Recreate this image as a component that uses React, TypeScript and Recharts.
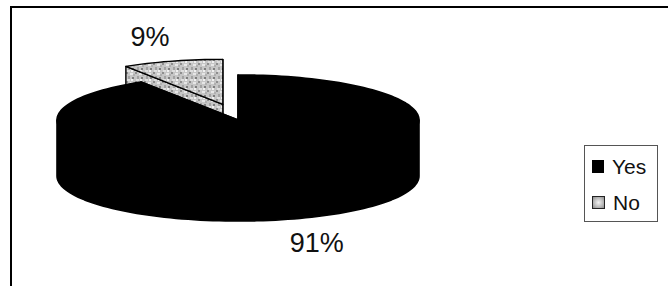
import React from "react";
import { PieChart, Pie, Cell, Legend } from "recharts";

// answers, in drawing order (back slice first so the big slice paints over it)
const CATEGORIES = ["No", "Yes"];
const VALUES = [9, 91];
const LEGEND_ORDER = ["Yes", "No"];
const EXPLODED = "No";

const data = CATEGORIES.map((name, i) => ({ name, value: VALUES[i] }));

const FONT = '"Liberation Sans", Arial, sans-serif';
const FILLS: Record<string, string> = { Yes: "#000000", No: "url(#noTexture)" };

const RAD = Math.PI / 180;
const TILT = 0.249; // ry / rx of the top face
const DEPTH = 56; // thickness of the pie
const EXPLODE_X = 0.3;
const EXPLODE_Y = 0.36;

function explodeOffset(name: string, midAngle: number, rx: number, ry: number) {
	if (name !== EXPLODED) return [0, 0];
	return [
		Math.cos(midAngle * RAD) * rx * EXPLODE_X,
		-Math.sin(midAngle * RAD) * ry * EXPLODE_Y,
	];
}

function arcPts(cx: number, cy: number, rx: number, ry: number, a0: number, a1: number, dy = 0) {
	const n = Math.max(2, Math.ceil(Math.abs(a1 - a0) / 2));
	const pts: string[] = [];
	for (let i = 0; i <= n; i++) {
		const a = (a0 + ((a1 - a0) * i) / n) * RAD;
		pts.push(`${(cx + rx * Math.cos(a)).toFixed(2)},${(cy - ry * Math.sin(a) + dy).toFixed(2)}`);
	}
	return pts;
}

function Slice3D(props: any) {
	const { cx, cy, outerRadius, startAngle, endAngle, midAngle, fill } = props;
	const name = props.payload?.name ?? props.name;
	const rx = outerRadius;
	const ry = outerRadius * TILT;
	const [ox, oy] = explodeOffset(name, midAngle, rx, ry);
	const x0 = cx + ox;
	const y0 = cy + oy;
	const s = Math.min(startAngle, endAngle);
	const e = Math.max(startAngle, endAngle);
	const isNo = name === "No";
	const stroke = "#000";
	const sw = isNo ? 1.4 : 1.6;

	// radial cut faces
	const faces = [s, e].map((a) => {
		const px = x0 + rx * Math.cos(a * RAD);
		const py = y0 - ry * Math.sin(a * RAD);
		return `M${x0},${y0} L${px},${py} L${px},${py + DEPTH} L${x0},${y0 + DEPTH} Z`;
	});

	// outer wall, front half only; the top edge tucks a little under the top face
	const walls: string[] = [];
	for (let k = -1; k <= 2; k++) {
		const lo = Math.max(s, 180 + 360 * k);
		const hi = Math.min(e, 360 + 360 * k);
		if (hi > lo) {
			const top = arcPts(x0, y0, rx - 2, ry - 2, lo, hi);
			const bottom = arcPts(x0, y0, rx, ry, lo, hi, DEPTH).reverse();
			const l = arcPts(x0, y0, rx, ry, lo, lo)[0];
			const r = arcPts(x0, y0, rx, ry, hi, hi)[0];
			walls.push(`M${l} L${top.join(" L")} L${r} L${bottom.join(" L")} Z`);
		}
	}

	const topFace = `M${x0},${y0} L${arcPts(x0, y0, rx, ry, s, e).join(" L")} Z`;

	return (
		<g strokeLinejoin="round">
			{isNo && (
				<defs>
					<pattern id="noTexture" width="9" height="9" patternUnits="userSpaceOnUse">
						<rect width="9" height="9" fill="#c6c6c6" />
						<rect x="0" y="0" width="2" height="2" fill="#8e8e8e" />
						<rect x="4" y="1" width="3" height="2" fill="#e6e6e6" />
						<rect x="2" y="4" width="2" height="3" fill="#a2a2a2" />
						<rect x="6" y="5" width="2" height="2" fill="#7d7d7d" />
						<rect x="1" y="7" width="3" height="2" fill="#dedede" />
						<rect x="7" y="2" width="2" height="2" fill="#b0b0b0" />
						<rect x="5" y="7" width="2" height="2" fill="#f0f0f0" />
					</pattern>
				</defs>
			)}
			{faces.map((d, i) => (
				<path key={`f${i}`} d={d} fill={fill} stroke={stroke} strokeWidth={sw} />
			))}
			{walls.map((d, i) => (
				<path key={`w${i}`} d={d} fill={fill} stroke={stroke} strokeWidth={sw} />
			))}
			<path d={topFace} fill={fill} stroke={stroke} strokeWidth={sw} />
		</g>
	);
}

function renderLabel(props: any) {
	const { cx, cy, midAngle, outerRadius, percent } = props;
	const name = props.payload?.name ?? props.name;
	const rx = outerRadius;
	const ry = outerRadius * TILT;
	const [ox, oy] = explodeOffset(name, midAngle, rx, ry);
	const c = Math.cos(midAngle * RAD);
	const s = Math.sin(midAngle * RAD);
	const x = cx + ox + c * rx * 1.5 + 3;
	const y = cy + oy - s * ry * 1.55 + (s < 0 ? DEPTH : 0);
	return (
		<text
			x={x}
			y={y}
			textAnchor="middle"
			dominantBaseline="central"
			fontSize={27}
			fontFamily={FONT}
			fill="#111"
		>
			{`${Math.round(percent * 100)}%`}
		</text>
	);
}

function markerStyle(name: string): React.CSSProperties {
	if (name === "No") {
		return {
			width: 11,
			height: 11,
			border: "1px solid #222",
			background: "radial-gradient(circle, #f2f2f2 0%, #b8b8b8 60%, #8a8a8a 100%)",
			display: "inline-block",
		};
	}
	return { width: 12, height: 13, background: "#000", display: "inline-block" };
}

function LegendBox(props: any) {
	const items = [...(props.payload ?? [])].sort(
		(a: any, b: any) => LEGEND_ORDER.indexOf(a.value) - LEGEND_ORDER.indexOf(b.value)
	);
	return (
		<div
			style={{
				width: 74,
				height: 77,
				border: "1px solid #555",
				boxSizing: "border-box",
				paddingTop: 2,
				background: "#fff",
			}}
		>
			{items.map((item: any) => (
				<div
					key={item.value}
					style={{ display: "flex", alignItems: "center", height: 36, paddingLeft: 7 }}
				>
					<span style={markerStyle(item.value)} />
					<span
						style={{
							marginLeft: 8,
							fontSize: 21,
							fontFamily: FONT,
							color: "#111",
							lineHeight: "21px",
						}}
					>
						{item.value}
					</span>
				</div>
			))}
		</div>
	);
}

export default function App() {
	return (
		<div
			style={{
				position: "absolute",
				left: 0,
				top: 0,
				width: 668,
				height: 286,
				overflow: "hidden",
				background: "#fff",
			}}
		>
			{/* chart frame, runs off the right and bottom */}
			<div
				style={{
					position: "absolute",
					left: 10,
					top: 6,
					width: 700,
					height: 320,
					border: "2px solid #000",
				}}
			/>
			<div style={{ position: "absolute", left: 0, top: 0 }}>
				<PieChart width={668} height={286} margin={{ top: 0, right: 0, bottom: 0, left: 0 }}>
					<Pie
						data={data}
						dataKey="value"
						nameKey="name"
						cx={238}
						cy={120}
						outerRadius={181}
						startAngle={90}
						endAngle={450}
						stroke="none"
						shape={Slice3D}
						activeShape={Slice3D}
						inactiveShape={Slice3D}
						label={renderLabel}
						labelLine={false}
						isAnimationActive={false}
					>
						{data.map((d) => (
							<Cell key={d.name} fill={FILLS[d.name]} />
						))}
					</Pie>
					<Legend
						layout="vertical"
						align="right"
						verticalAlign="middle"
						content={LegendBox}
						wrapperStyle={{ left: 584, top: 145, width: 74, height: 77 }}
					/>
				</PieChart>
			</div>
		</div>
	);
}
